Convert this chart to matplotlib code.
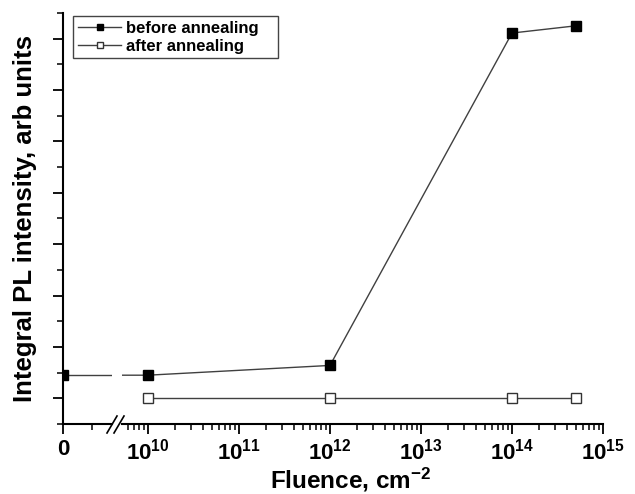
import matplotlib
matplotlib.use('Agg')
import matplotlib.pyplot as plt
from matplotlib.ticker import FixedLocator, NullFormatter, LogLocator

plt.rcParams['font.family'] = ['Liberation Sans', 'DejaVu Sans']
plt.rcParams['font.weight'] = 'bold'
plt.rcParams['mathtext.fontset'] = 'custom'
plt.rcParams['mathtext.rm'] = 'Liberation Sans:bold'
plt.rcParams['mathtext.bf'] = 'Liberation Sans:bold'
plt.rcParams['mathtext.it'] = 'Liberation Sans:bold:italic'
plt.rcParams['mathtext.default'] = 'bf'

# fluence, cm^-2 (0 = unirradiated)
before_x = [0, 1e10, 1e12, 1e14, 5e14]
before_y = [1.45, 1.45, 1.64, 8.11, 8.25]
after_x = [1e10, 1e12, 1e14, 5e14]
after_y = [1.0, 1.0, 1.0, 1.0]

before_label = 'before annealing'
after_label = 'after annealing'
line_color = '#404040'

fig = plt.figure(figsize=(6.35, 4.94), dpi=100)
ax_l = fig.add_axes([63/635, 1-424/494, 49/635, 411/494])
ax_r = fig.add_axes([122/635, 1-424/494, 481/635, 411/494], sharey=ax_l)


def draw(ax):
    ax.plot(before_x, before_y, color=line_color, lw=1, marker='s', ms=7.5,
            mfc='black', mec='black', label=before_label)
    ax.plot(after_x, after_y, color=line_color, lw=1, marker='s', ms=7,
            mfc='white', mec='#333333', mew=1, label=after_label)
    for s in ['top', 'right']:
        ax.spines[s].set_visible(False)
    for s in ['left', 'bottom']:
        ax.spines[s].set_linewidth(1.5)
    ax.tick_params(which='major', direction='out', length=7, width=1.3, labelsize=16)
    ax.tick_params(which='minor', direction='out', length=4, width=1.1)


draw(ax_l)
draw(ax_r)

# left part: zero fluence
ax_l.set_xlim(0, 1)
ax_l.xaxis.set_major_locator(FixedLocator([0]))
ax_l.xaxis.set_minor_locator(FixedLocator([0.59]))
ax_l.set_ylim(0.5, 8.5)
ax_l.yaxis.set_major_locator(FixedLocator(range(1, 9)))
ax_l.yaxis.set_minor_locator(FixedLocator([0.5 + i for i in range(9)]))
ax_l.yaxis.set_major_formatter(NullFormatter())

# right part: log fluence
ax_r.set_xscale('log', nonpositive='clip')
ax_r.set_xlim(5.18e9, 1e15)
ax_r.xaxis.set_major_locator(LogLocator(base=10, numticks=20))
ax_r.xaxis.set_minor_locator(LogLocator(base=10, subs=range(2, 10), numticks=20))
ax_r.xaxis.set_minor_formatter(NullFormatter())
ax_r.spines['left'].set_visible(False)
ax_r.tick_params(axis='y', which='both', left=False, labelleft=False)

# break marks
for dx in (0, 7):
    fig.add_artist(plt.Line2D([(107 + dx)/635, (117 + dx)/635], [1-433/494, 1-416/494],
                              color='black', lw=1.2))

fig.text(25/635, 1-218/494, 'Integral PL intensity, arb units', fontsize=18.5,
         fontweight='bold', rotation=90, ha='center', va='center')
fig.text(351/635, 1-488/494, 'Fluence, cm$^{-2}$', fontsize=17.5, fontweight='bold',
         ha='center', va='baseline')

leg = fig.legend(handles=ax_l.lines, loc='upper left', mode='expand',
                 bbox_to_anchor=(73/635, 1-62/494, 205/635, 46/494),
                 fontsize=12, markerscale=0.55, handlelength=2.6, handletextpad=0.3,
                 borderpad=0.3, labelspacing=0.15, borderaxespad=0,
                 frameon=True, fancybox=False, edgecolor='#444444', framealpha=1)
leg.get_frame().set_linewidth(1)

fig.savefig('out.png', dpi=100)
